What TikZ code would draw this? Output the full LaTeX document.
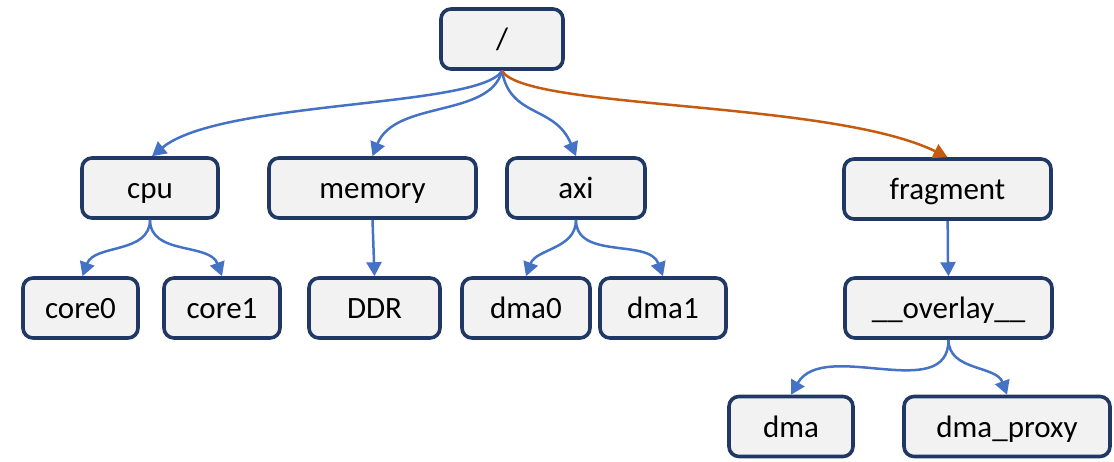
\documentclass[tikz,border=0pt]{standalone}
\usepackage{fontspec}
\setmainfont{Carlito}
\usetikzlibrary{arrows.meta}
\definecolor{boxline}{HTML}{1F3864}
\definecolor{boxfill}{HTML}{F2F2F2}
\definecolor{linkblue}{HTML}{4472C4}
\definecolor{linkorange}{HTML}{C55A11}
\begin{document}
\begin{tikzpicture}[x=1pt,y=1pt,
  box/.style={draw=boxline, fill=boxfill, line width=3.6pt, rounded corners=10pt,
    minimum height=60pt, inner sep=0pt, text height=26pt, text depth=4pt,
    font=\fontsize{31}{36}\selectfont},
  link/.style={draw=linkblue, line width=2.5pt, -{Triangle[length=14pt,width=15pt]}},
  hot/.style={link, draw=linkorange}]
\useasboundingbox (0,0) rectangle (1114,-462);

% level 0
\node[box, minimum width=122pt] (root) at (502,-39) {/};
% level 1
\node[box, minimum width=136pt] (cpu) at (150,-188) {cpu};
\node[box, minimum width=207pt] (memory) at (372.5,-188) {memory};
\node[box, minimum width=138pt] (axi) at (576,-188) {axi};
\node[box, minimum width=207pt] (fragment) at (947.5,-189) {fragment};
% level 2
\node[box, minimum width=115pt] (core0) at (80.5,-308) {core0};
\node[box, minimum width=116pt] (core1) at (222,-308) {core1};
\node[box, minimum width=131pt] (ddr) at (374.5,-308) {DDR};
\node[box, minimum width=128pt] (dma0) at (526,-308) {dma0};
\node[box, minimum width=126pt] (dma1) at (663,-308) {dma1};
\node[box, minimum width=207pt] (overlay) at (948.5,-308) {\_\_overlay\_\_};
% level 3
\node[box, minimum width=124pt] (dma) at (791,-426.5) {dma};
\node[box, minimum width=206pt] (proxy) at (1007,-426.5) {dma\_proxy};

% edges from the root
\draw[link] (root.south) .. controls (480,-108) and (220,-100) .. ([xshift=2pt]cpu.north);
\draw[link] (root.south) .. controls (490,-118) and (395,-100) .. (memory.north);
\draw[link] (root.south) .. controls (510,-118) and (555,-105) .. (axi.north);
\draw[hot] (root.south) .. controls (525,-110) and (830,-100) .. (fragment.north);

% edges further down
\draw[link] (cpu.south) to[out=-90, in=70] ([xshift=2pt]core0.north);
\draw[link] (cpu.south) to[out=-90, in=110] (core1.north);
\draw[link] (memory.south) -- (ddr.north);
\draw[link] (axi.south) to[out=-90, in=70] (dma0.north);
\draw[link] (axi.south) to[out=-90, in=110] (dma1.north);
\draw[link] (fragment.south) to[out=-88, in=92] (overlay.north);
\draw[link] (overlay.south) to[out=-90, in=60] (dma.north);
\draw[link] (overlay.south) to[out=-90, in=110] (proxy.north);
\end{tikzpicture}
\end{document}
